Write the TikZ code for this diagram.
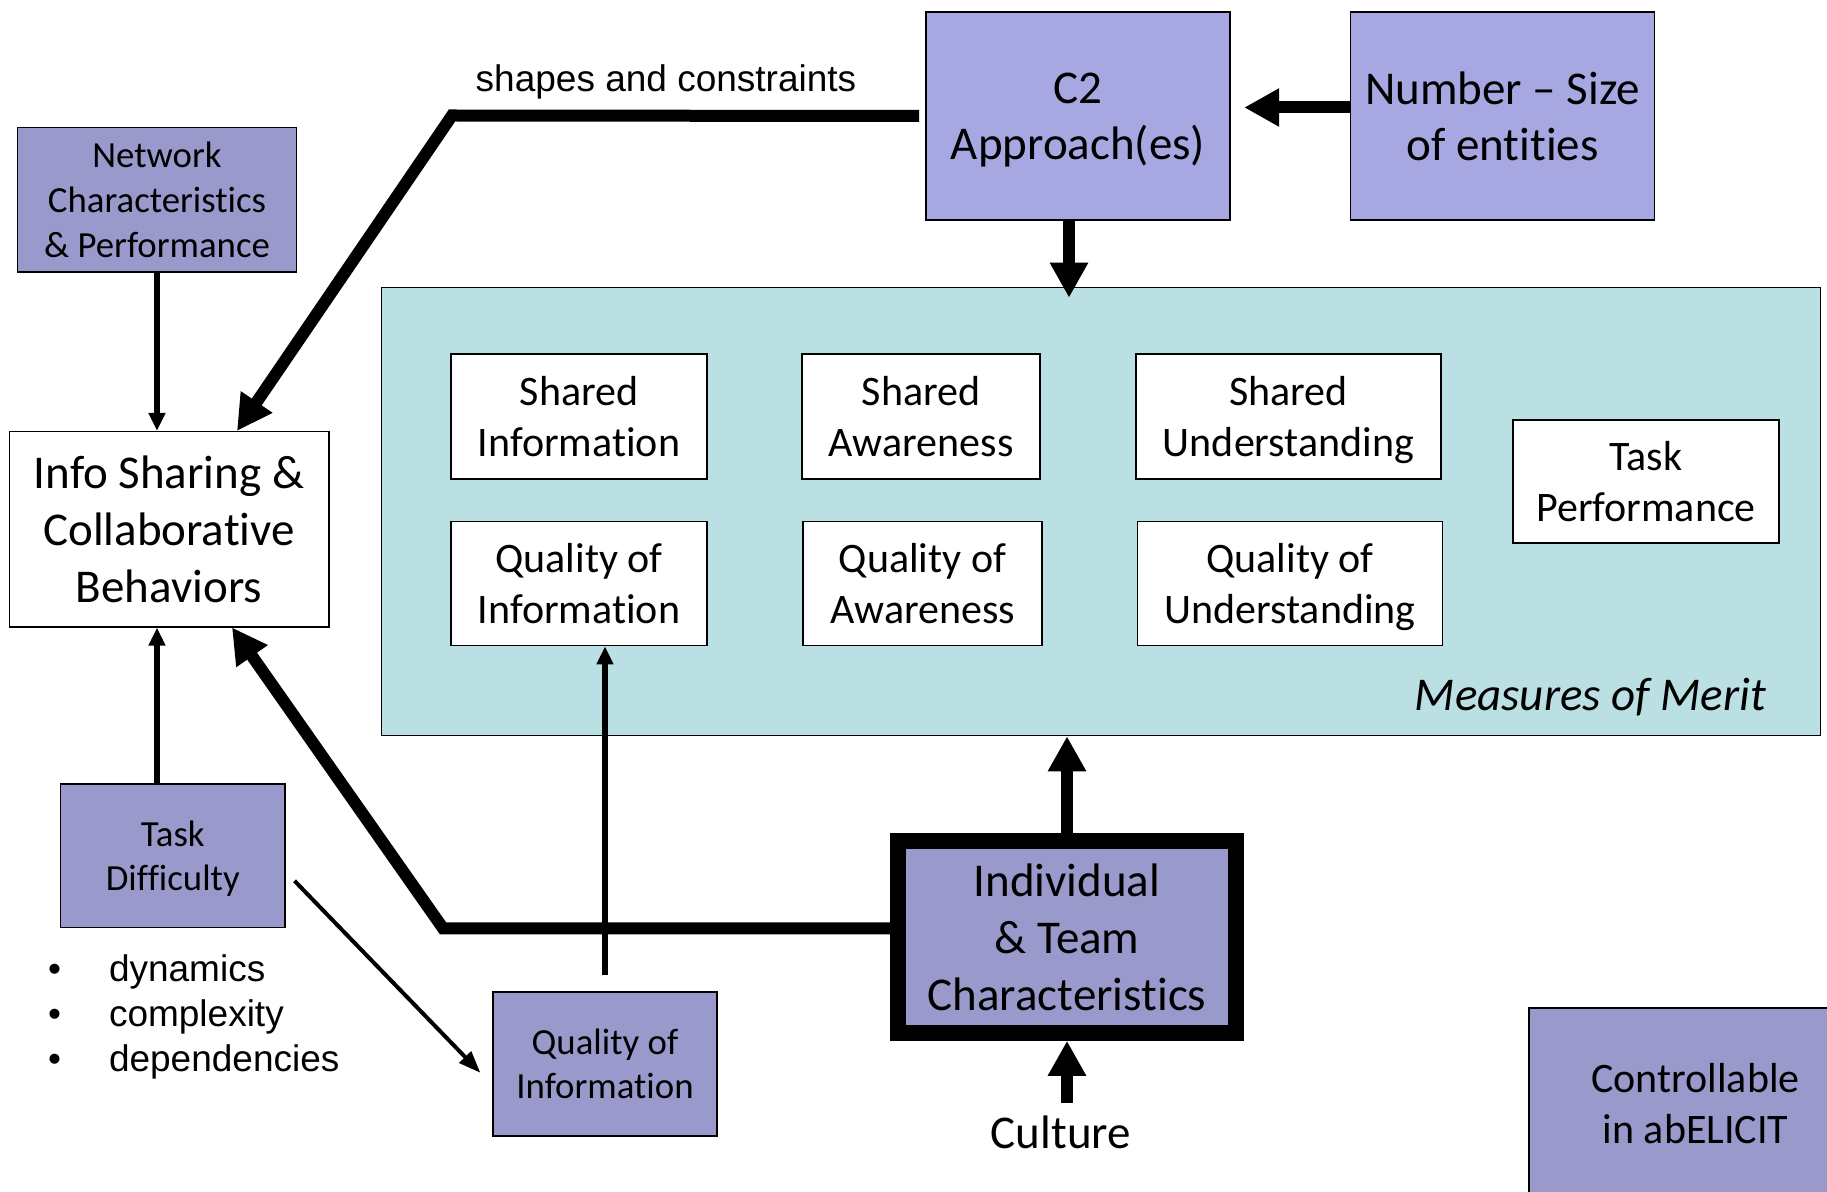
\documentclass[tikz,border=0pt]{standalone}
\usepackage{fontspec}
\setmainfont{Carlito}[Ligatures=NoCommon]
\newfontfamily\arialfont{Liberation Sans}
\usetikzlibrary{arrows.meta,calc}
\definecolor{ctrlpurple}{RGB}{153,153,204}
\definecolor{c2purple}{RGB}{167,167,226}
\definecolor{momcyan}{RGB}{186,224,227}

\begin{document}
\begin{tikzpicture}[x=0.5pt,y=-0.5pt,
  box/.style={draw=black, line width=0.8pt, inner sep=0pt, align=center, text depth=0pt},
  ctrlbox/.style={box, fill=ctrlpurple},
  c2box/.style={box, fill=c2purple},
  whitebox/.style={box, fill=white},
  fbig/.style={font=\fontsize{23.5}{28.5}\selectfont},
  fcc/.style={font=\fontsize{23.5}{28}\selectfont},
  fmid/.style={font=\fontsize{21}{25.5}\selectfont},
  fsmall/.style={font=\fontsize{18.4}{22.4}\selectfont},
  farial/.style={font=\arialfont\fontsize{18.5}{22}\selectfont, inner sep=0pt},
  heavyarrow/.style={line width=6pt, -{Triangle[width=18pt,length=17.5pt]}},
  lightarrow/.style={line width=3pt, -{Triangle[width=8pt,length=9pt]}},
  slimarrow/.style={line width=2pt, -{Triangle[width=8pt,length=11pt]}},
]
\useasboundingbox (0,0) rectangle (1827,1192);

% Measures of Merit panel and its contents
\node[box, fill=momcyan, minimum width=719.5pt, minimum height=224pt] (mom) at (1101,511.5) {};
\node[anchor=base east, inner sep=0pt, fbig] (momlabel) at ($(mom.south east)+(-55,-26)$) {\itshape Measures of Merit};

\node[whitebox, fmid, minimum width=128pt, minimum height=62.5pt] (si) at (579,416.5) {Shared\\Information};
\node[whitebox, fmid, minimum width=119pt, minimum height=62.5pt] (sa) at (921,416.5) {Shared\\Awareness};
\node[whitebox, fmid, minimum width=152.5pt, minimum height=62.5pt] (su) at (1288.5,416.5) {Shared\\Understanding};
\node[whitebox, fmid, minimum width=128pt, minimum height=62pt] (qi) at (579,583.5) {Quality of\\Information};
\node[whitebox, fmid, minimum width=119.5pt, minimum height=62pt] (qa) at (922.5,583.5) {Quality of\\Awareness};
\node[whitebox, fmid, minimum width=152.5pt, minimum height=62pt] (qu) at (1290,583.5) {Quality of\\Understanding};
\node[whitebox, fmid, minimum width=133pt, minimum height=61.5pt] (tp) at (1646,481.5) {Task\\Performance};

% Left column
\node[ctrlbox, fsmall, minimum width=139.4pt, minimum height=72.3pt] (net) at (157,200) {Network\\Characteristics\\\& Performance};
\node[whitebox, fbig, minimum width=159.7pt, minimum height=97.5pt] (info) at (169,529.2) {Info Sharing \&\\Collaborative\\Behaviors};
\node[ctrlbox, fsmall, minimum width=112.4pt, minimum height=71.8pt] (td) at (172.8,855.8) {Task\\Difficulty};

\node[farial, anchor=base] (b1) at (54.6,981) {•};
\node[farial, anchor=base] (b2) at (54.6,1026) {•};
\node[farial, anchor=base] (b3) at (54.6,1071) {•};
\node[farial, anchor=base west] (t1) at (108.6,981) {dynamics};
\node[farial, anchor=base west] (t2) at (108.6,1026) {complexity};
\node[farial, anchor=base west] (t3) at (108.6,1071) {dependencies};

\node[ctrlbox, fsmall, minimum width=112pt, minimum height=72pt] (qb) at (605,1063.8) {Quality of\\Information};

% Top row
\node[c2box, fcc, minimum width=152pt, minimum height=104pt] (c2) at (1078,116) {C2\\Approach(es)};
\node[c2box, fcc, minimum width=152pt, minimum height=104pt] (num) at (1502.5,116) {Number -- Size\\of entities};
\node[farial, anchor=base] (shapes) at (666,92) {shapes and constraints};

% Bottom centre
\node[box, fill=ctrlpurple, line width=7.8pt, fbig, minimum width=169pt, minimum height=96pt] (ind) at (1067,937) {Individual\\\& Team\\Characteristics};
\node[inner sep=0pt, anchor=base, fbig] (culture) at (1061,1148) {Culture};

% Legend box running off the corner
\node[ctrlbox, fmid, minimum width=166.5pt, minimum height=95pt] (ctrl) at (1695.5,1103) {Controllable\\in abELICIT};

% Connectors
\coordinate (sbend) at (452,115.5);
\draw[heavyarrow] ([xshift=-3pt]c2.west) -- (sbend) -- ([xshift=34pt]info.north);

\coordinate (ibend) at (443,928.3);
\draw[heavyarrow] (ind.west |- ibend) -- (ibend) -- ([xshift=31.5pt]info.south);

\draw[lightarrow] (net.south) -- (net.south |- info.north);
\draw[lightarrow] (net.south |- td.north) -- (net.south |- info.south);
\draw[lightarrow] ($(qb.north)+(0,-16)$) -- (qb.north |- qi.south);
\draw[slimarrow] ($(td.east)+(8.5,25)$) -- ($(qb.west)+(-11.8,9)$);

\draw[heavyarrow] ([yshift=4.25pt]num.west) -- ([xshift=6.7pt,yshift=4.25pt]c2.east);
\draw[heavyarrow] ([xshift=-4.5pt]c2.south) -- ($(c2.south |- mom.north)+(-9,11)$);
\draw[heavyarrow] (ind.north) -- (ind.north |- mom.south);
\draw[heavyarrow] ($(culture.north -| ind.south)+(0,-12)$) -- (ind.south);
\end{tikzpicture}
\end{document}
